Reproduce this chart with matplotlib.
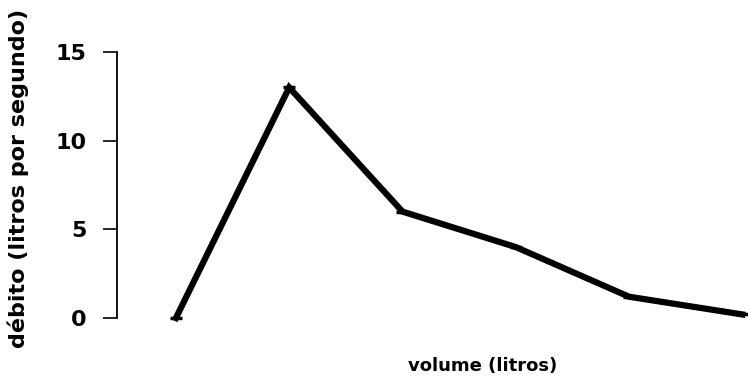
import matplotlib.pyplot as plt

# data
volume = [1, 2, 3, 4, 5, 6]
debito = [0, 13, 6, 4, 1.2, 0.2]
y_ticks = [0, 5, 10, 15]

plt.rcParams['font.family'] = ['DejaVu Sans']

fig = plt.figure(figsize=(7.48, 3.81), dpi=100)
ax = fig.add_axes([117 / 748, 1 - 318 / 381, 1 - 117 / 748, 266 / 381])

ax.plot(volume, debito, color='black', linewidth=4.5, marker='_',
        markersize=9, markeredgewidth=2.5, clip_on=False,
        solid_joinstyle='miter')

ax.set_xlim(0.48, 6.05)
ax.set_ylim(0, 15)
ax.set_yticks(y_ticks)
ax.set_xticks([])

for side in ['top', 'right', 'bottom']:
    ax.spines[side].set_visible(False)
ax.spines['left'].set_linewidth(1.3)
ax.tick_params(axis='y', length=10, width=1.2, direction='out', pad=12,
               labelsize=16)
for lab in ax.get_yticklabels():
    lab.set_fontweight('bold')

fig.text(18 / 748, 1 - 178 / 381, 'débito (litros por segundo)', fontsize=16,
         fontweight='bold', rotation=90, ha='center', va='center')
fig.text(483 / 748, 1 - 366 / 381, 'volume (litros)', fontsize=13,
         fontweight='bold', ha='center', va='center')

fig.savefig('out.png', dpi=100)
